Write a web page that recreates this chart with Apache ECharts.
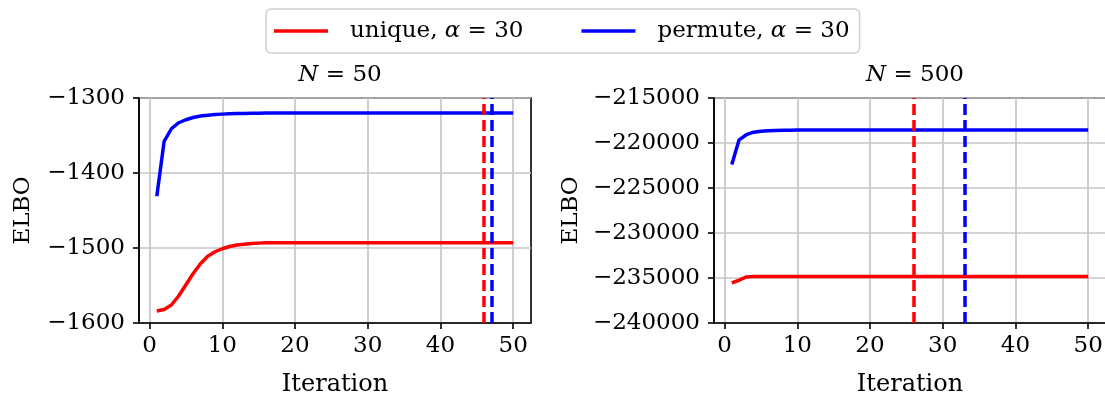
<!DOCTYPE html>
<html>
<head>
<meta charset="utf-8">
<script src="https://cdn.jsdelivr.net/npm/echarts@6/dist/echarts.min.js"></script>
<style>
  html, body { margin: 0; padding: 0; background: #fff; }
  #chart { width: 1105px; height: 399px; }
</style>
</head>
<body>
<div id="chart"></div>
<script>
// ELBO per iteration, N = 50
const uniqueN50 = [
  -1584, -1582, -1576, -1564, -1549, -1534, -1521, -1511, -1505, -1501,
  -1498, -1496, -1495, -1494, -1493.5, -1493, -1493, -1493, -1493, -1493,
  -1493, -1493, -1493, -1493, -1493, -1493, -1493, -1493, -1493, -1493,
  -1493, -1493, -1493, -1493, -1493, -1493, -1493, -1493, -1493, -1493,
  -1493, -1493, -1493, -1493, -1493, -1493, -1493, -1493, -1493, -1493
];
const permuteN50 = [
  -1431, -1358, -1341, -1333, -1329, -1326, -1324, -1323, -1322, -1321.5,
  -1321, -1320.8, -1320.6, -1320.4, -1320.2, -1320, -1320, -1320, -1320, -1320,
  -1320, -1320, -1320, -1320, -1320, -1320, -1320, -1320, -1320, -1320,
  -1320, -1320, -1320, -1320, -1320, -1320, -1320, -1320, -1320, -1320,
  -1320, -1320, -1320, -1320, -1320, -1320, -1320, -1320, -1320, -1320
];
// ELBO per iteration, N = 500
const uniqueN500 = [
  -235550, -235250, -234880, -234830, -234820, -234820, -234820, -234820, -234820, -234820,
  -234820, -234820, -234820, -234820, -234820, -234820, -234820, -234820, -234820, -234820,
  -234820, -234820, -234820, -234820, -234820, -234820, -234820, -234820, -234820, -234820,
  -234820, -234820, -234820, -234820, -234820, -234820, -234820, -234820, -234820, -234820,
  -234820, -234820, -234820, -234820, -234820, -234820, -234820, -234820, -234820, -234820
];
const permuteN500 = [
  -222400, -219650, -219080, -218800, -218690, -218630, -218600, -218580, -218570, -218560,
  -218560, -218560, -218560, -218560, -218560, -218560, -218560, -218560, -218560, -218560,
  -218560, -218560, -218560, -218560, -218560, -218560, -218560, -218560, -218560, -218560,
  -218560, -218560, -218560, -218560, -218560, -218560, -218560, -218560, -218560, -218560,
  -218560, -218560, -218560, -218560, -218560, -218560, -218560, -218560, -218560, -218560
];
// Iteration at which each run stopped (dashed markers)
const stopUniqueN50 = 46;
const stopPermuteN50 = 47;
const stopUniqueN500 = 26;
const stopPermuteN500 = 33;

const xTicks = [0, 10, 20, 30, 40, 50];
const panelTitles = ['50', '500'];

const FONT = 'DejaVu Serif';
const RED = '#ff0000';
const BLUE = '#0000ff';

function pairs(values) {
  return values.map((v, i) => [i + 1, v]);
}
function minusFmt(v) {
  return String(v).replace('-', '\u2212');
}

const gridBox = { top: 98, width: 392, height: 225 };
const grids = [
  Object.assign({ left: 139 }, gridBox),
  Object.assign({ left: 714 }, gridBox)
].map(g => Object.assign(g, {
  show: true, borderColor: '#000', borderWidth: 1.6,
  containLabel: false, outerBoundsMode: 'none'
}));

function xAxis(idx) {
  return {
    gridIndex: idx, type: 'value', min: -1.45, max: 52.45,
    name: 'Iteration', nameLocation: 'middle', nameGap: 50,
    nameTextStyle: { fontFamily: FONT, fontSize: 24, color: '#000' },
    axisLine: { show: true, onZero: false, lineStyle: { color: '#000', width: 1.6 } },
    axisTick: { show: true, inside: false, length: 6, customValues: xTicks, lineStyle: { color: '#000', width: 1.6 } },
    axisLabel: { customValues: xTicks, margin: 12, fontFamily: FONT, fontSize: 23, color: '#000' },
    splitLine: { show: true, lineStyle: { color: '#c6c6c6', width: 1.7 } }
  };
}
function yAxis(idx, min, max, interval, gap) {
  return {
    gridIndex: idx, type: 'value', min: min, max: max, interval: interval,
    name: 'ELBO', nameLocation: 'middle', nameGap: gap, nameRotate: 90,
    nameTextStyle: { fontFamily: FONT, fontSize: 23, color: '#000' },
    axisLine: { show: true, onZero: false, lineStyle: { color: '#000', width: 1.6 } },
    axisTick: { show: true, inside: false, length: 6, lineStyle: { color: '#000', width: 1.6 } },
    axisLabel: { margin: 14, fontFamily: FONT, fontSize: 23, color: '#000', formatter: minusFmt },
    splitLine: { show: true, lineStyle: { color: '#c6c6c6', width: 1.7 } }
  };
}

function stopLine(x, color) {
  return {
    silent: true, symbol: ['none', 'none'], label: { show: false },
    lineStyle: { color: color, type: [11, 5], width: 3.5 },
    data: [{ xAxis: x }]
  };
}
function lineSeries(name, color, idx, values, stop) {
  return {
    name: name, type: 'line', xAxisIndex: idx, yAxisIndex: idx,
    data: pairs(values), symbol: 'none', showSymbol: false, smooth: false,
    lineStyle: { color: color, width: 3.5 }, itemStyle: { color: color },
    markLine: stopLine(stop, color), animation: false
  };
}

const chart = echarts.init(document.getElementById('chart'), null, { renderer: 'canvas' });
chart.setOption({
  animation: false,
  backgroundColor: '#fff',
  title: panelTitles.map((n, i) => ({
    text: '{i|N} = ' + n,
    left: grids[i].left + 196, top: 59, textAlign: 'center',
    textStyle: {
      fontFamily: FONT, fontSize: 23, fontWeight: 'normal', color: '#000',
      rich: { i: { fontFamily: FONT, fontStyle: 'italic', fontSize: 23, color: '#000' } }
    }
  })),
  legend: {
    left: 266, top: 9,
    data: [{ name: 'unique', icon: 'rect' }, { name: 'permute', icon: 'rect' }],
    itemWidth: 54, itemHeight: 3.5, itemGap: 58,
    padding: [9, 10, 9, 8],
    borderColor: '#d0d0d0', borderWidth: 1.5, borderRadius: 5,
    formatter: name => name + ', {i|\u03b1} = 30',
    textStyle: {
      fontFamily: FONT, fontSize: 23, color: '#000', padding: [0, 0, 0, 17], lineHeight: 26,
      rich: { i: { fontFamily: FONT, fontStyle: 'italic', fontSize: 23, color: '#000' } }
    }
  },
  grid: grids,
  xAxis: [xAxis(0), xAxis(1)],
  yAxis: [yAxis(0, -1600, -1300, 100, 104), yAxis(1, -240000, -215000, 5000, 131)],
  series: [
    lineSeries('unique', RED, 0, uniqueN50, stopUniqueN50),
    lineSeries('permute', BLUE, 0, permuteN50, stopPermuteN50),
    lineSeries('unique', RED, 1, uniqueN500, stopUniqueN500),
    lineSeries('permute', BLUE, 1, permuteN500, stopPermuteN500)
  ]
});
</script>
</body>
</html>
